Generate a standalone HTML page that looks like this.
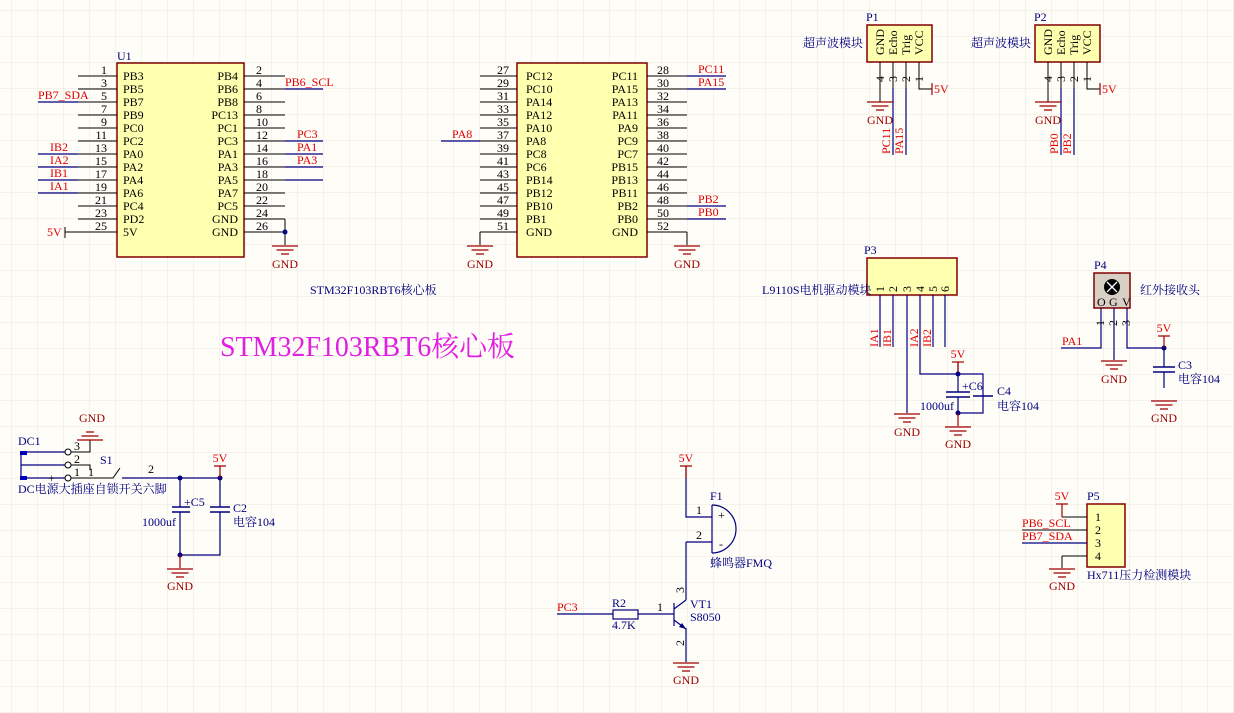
<!DOCTYPE html>
<html><head><meta charset="utf-8"><style>
html,body{margin:0;padding:0;background:#fffdf8;}
svg{display:block;}
text{font-family:"Liberation Serif","Noto Serif CJK SC","Noto Sans CJK SC",serif;font-size:12px;}
.k{fill:#000;} .n{fill:#000080;} .r{fill:#e00000;} .dr{fill:#a00000;}
.w{stroke:#000;stroke-width:1;fill:none;} .b{stroke:#000080;stroke-width:1.2;fill:none;} .p{stroke:#a00000;stroke-width:1.2;fill:none;}
.box{fill:#ffffb0;stroke:#800000;stroke-width:1.5;}
</style></head><body>
<svg width="1234" height="713" viewBox="0 0 1234 713" xmlns="http://www.w3.org/2000/svg">
<defs>
<pattern id="grid" x="11" y="10" width="26" height="26" patternUnits="userSpaceOnUse">
<path d="M0 0H26M0 0V26" stroke="#ebe6df" stroke-width="1" fill="none"/>
</pattern>
<g id="gnd"><path d="M-13 0H13M-8.5 4H8.5M-4 8H4" stroke="#a00000" stroke-width="1.2"/></g>
<g id="gndu"><path d="M-13 0H13M-8.5 -4H8.5M-4 -8H4" stroke="#a00000" stroke-width="1.2"/></g>
</defs>
<rect width="1234" height="713" fill="#fffdf8"/>
<rect width="1234" height="713" fill="url(#grid)"/>

<!-- U1 -->
<text x="117" y="60" class="n">U1</text>
<rect x="117" y="63" width="127" height="194" class="box"/>
<g class="w">
<path d="M78 76H117M78 89H117M78 102H117M78 115H117M78 128H117M78 141H117M78 154H117M78 167H117M78 180H117M78 193H117M78 206H117M78 219H117M65 232H117"/>
<path d="M244 76H285M244 89H285M244 102H285M244 115H285M244 128H285M244 141H285M244 154H285M244 167H285M244 180H285M244 193H285M244 206H285M244 219H285M244 232H285"/>
<path d="M285 219V245"/><path d="M65 227V238"/>
</g>
<use href="#gnd" x="285" y="246"/>
<circle cx="285" cy="232" r="2.5" fill="#000080"/>
<text x="285" y="268" class="dr" text-anchor="middle">GND</text>
<g class="b"><path d="M38 102H78M38 154H78M38 167H78M38 180H78M38 193H78M285 89H323M285 141H323M285 154H323M285 167H323M285 180H323"/></g>
<g class="k" text-anchor="end">
<text x="107" y="74">1</text><text x="107" y="87">3</text><text x="107" y="100">5</text><text x="107" y="113">7</text><text x="107" y="126">9</text><text x="107" y="139">11</text><text x="107" y="152">13</text><text x="107" y="165">15</text><text x="107" y="178">17</text><text x="107" y="191">19</text><text x="107" y="204">21</text><text x="107" y="217">23</text><text x="107" y="230">25</text>
<text x="238" y="80">PB4</text><text x="238" y="93">PB6</text><text x="238" y="106">PB8</text><text x="238" y="119">PC13</text><text x="238" y="132">PC1</text><text x="238" y="145">PC3</text><text x="238" y="158">PA1</text><text x="238" y="171">PA3</text><text x="238" y="184">PA5</text><text x="238" y="197">PA7</text><text x="238" y="210">PC5</text><text x="238" y="223">GND</text><text x="238" y="236">GND</text>
</g>
<g class="k">
<text x="123" y="80">PB3</text><text x="123" y="93">PB5</text><text x="123" y="106">PB7</text><text x="123" y="119">PB9</text><text x="123" y="132">PC0</text><text x="123" y="145">PC2</text><text x="123" y="158">PA0</text><text x="123" y="171">PA2</text><text x="123" y="184">PA4</text><text x="123" y="197">PA6</text><text x="123" y="210">PC4</text><text x="123" y="223">PD2</text><text x="123" y="236">5V</text>
<text x="256" y="74">2</text><text x="256" y="87">4</text><text x="256" y="100">6</text><text x="256" y="113">8</text><text x="256" y="126">10</text><text x="256" y="139">12</text><text x="256" y="152">14</text><text x="256" y="165">16</text><text x="256" y="178">18</text><text x="256" y="191">20</text><text x="256" y="204">22</text><text x="256" y="217">24</text><text x="256" y="230">26</text>
</g>
<g class="r">
<text x="38" y="99">PB7_SDA</text><text x="50" y="151">IB2</text><text x="50" y="164">IA2</text><text x="50" y="177">IB1</text><text x="50" y="190">IA1</text>
<text x="47" y="236">5V</text>
<text x="285" y="86">PB6_SCL</text><text x="297" y="138">PC3</text><text x="297" y="151">PA1</text><text x="297" y="164">PA3</text>
</g>

<!-- U2 -->
<rect x="517" y="63" width="130" height="194" class="box"/>
<g class="w">
<path d="M480 76H517M480 89H517M480 102H517M480 115H517M480 128H517M480 141H517M480 154H517M480 167H517M480 180H517M480 193H517M480 206H517M480 219H517M480 232H517"/>
<path d="M647 76H687M647 89H687M647 102H687M647 115H687M647 128H687M647 141H687M647 154H687M647 167H687M647 180H687M647 193H687M647 206H687M647 219H687M647 232H687"/>
<path d="M480 232V245M687 232V245"/>
</g>
<use href="#gnd" x="480" y="246"/><use href="#gnd" x="687" y="246"/>
<text x="480" y="268" class="dr" text-anchor="middle">GND</text>
<text x="687" y="268" class="dr" text-anchor="middle">GND</text>
<g class="b"><path d="M441 141H480M687 76H726M687 89H726M687 206H726M687 219H726"/></g>
<g class="k" text-anchor="end">
<text x="509" y="74">27</text><text x="509" y="87">29</text><text x="509" y="100">31</text><text x="509" y="113">33</text><text x="509" y="126">35</text><text x="509" y="139">37</text><text x="509" y="152">39</text><text x="509" y="165">41</text><text x="509" y="178">43</text><text x="509" y="191">45</text><text x="509" y="204">47</text><text x="509" y="217">49</text><text x="509" y="230">51</text>
<text x="638" y="80">PC11</text><text x="638" y="93">PA15</text><text x="638" y="106">PA13</text><text x="638" y="119">PA11</text><text x="638" y="132">PA9</text><text x="638" y="145">PC9</text><text x="638" y="158">PC7</text><text x="638" y="171">PB15</text><text x="638" y="184">PB13</text><text x="638" y="197">PB11</text><text x="638" y="210">PB2</text><text x="638" y="223">PB0</text><text x="638" y="236">GND</text>
</g>
<g class="k">
<text x="526" y="80">PC12</text><text x="526" y="93">PC10</text><text x="526" y="106">PA14</text><text x="526" y="119">PA12</text><text x="526" y="132">PA10</text><text x="526" y="145">PA8</text><text x="526" y="158">PC8</text><text x="526" y="171">PC6</text><text x="526" y="184">PB14</text><text x="526" y="197">PB12</text><text x="526" y="210">PB10</text><text x="526" y="223">PB1</text><text x="526" y="236">GND</text>
<text x="657" y="74">28</text><text x="657" y="87">30</text><text x="657" y="100">32</text><text x="657" y="113">34</text><text x="657" y="126">36</text><text x="657" y="139">38</text><text x="657" y="152">40</text><text x="657" y="165">42</text><text x="657" y="178">44</text><text x="657" y="191">46</text><text x="657" y="204">48</text><text x="657" y="217">50</text><text x="657" y="230">52</text>
</g>
<g class="r">
<text x="452" y="138">PA8</text><text x="698" y="73">PC11</text><text x="698" y="86">PA15</text><text x="698" y="203">PB2</text><text x="698" y="216">PB0</text>
</g>
<text x="310" y="294" class="n">STM32F103RBT6核心板</text>
<text x="220" y="356" fill="#e020e0" style="font-size:28px" textLength="295" lengthAdjust="spacingAndGlyphs">STM32F103RBT6核心板</text>

<!-- P1 / P2 -->
<g>
<text x="866" y="21" class="n">P1</text>
<rect x="867" y="25" width="65" height="37" class="box"/>
<g class="k" style="font-size:11px">
<text transform="translate(884,55) rotate(-90)">GND</text>
<text transform="translate(897,55) rotate(-90)">Echo</text>
<text transform="translate(910,55) rotate(-90)">Trig</text>
<text transform="translate(923,55) rotate(-90)">VCC</text>
<text transform="translate(884,82) rotate(-90)">4</text>
<text transform="translate(897,82) rotate(-90)">3</text>
<text transform="translate(910,82) rotate(-90)">2</text>
<text transform="translate(923,82) rotate(-90)">1</text>
</g>
<path d="M880 62V102M919 62V89H932M893 62V88M906 62V88" class="w"/>
<path d="M893 88V155M906 88V155" class="b"/>
<path d="M932 83V95" class="p"/>
<use href="#gnd" x="880" y="102"/>
<text x="880" y="124" class="dr" text-anchor="middle">GND</text>
<text x="934" y="93" class="r">5V</text>
<text transform="translate(890,154) rotate(-90)" class="r">PC11</text>
<text transform="translate(903,154) rotate(-90)" class="r">PA15</text>
<text x="803" y="47" class="n">超声波模块</text>
</g>
<g transform="translate(168,0)">
<text x="866" y="21" class="n">P2</text>
<rect x="867" y="25" width="65" height="37" class="box"/>
<g class="k" style="font-size:11px">
<text transform="translate(884,55) rotate(-90)">GND</text>
<text transform="translate(897,55) rotate(-90)">Echo</text>
<text transform="translate(910,55) rotate(-90)">Trig</text>
<text transform="translate(923,55) rotate(-90)">VCC</text>
<text transform="translate(884,82) rotate(-90)">4</text>
<text transform="translate(897,82) rotate(-90)">3</text>
<text transform="translate(910,82) rotate(-90)">2</text>
<text transform="translate(923,82) rotate(-90)">1</text>
</g>
<path d="M880 62V102M919 62V89H932M893 62V88M906 62V88" class="w"/>
<path d="M893 88V155M906 88V155" class="b"/>
<path d="M932 83V95" class="p"/>
<use href="#gnd" x="880" y="102"/>
<text x="880" y="124" class="dr" text-anchor="middle">GND</text>
<text x="934" y="93" class="r">5V</text>
<text transform="translate(890,154) rotate(-90)" class="r">PB0</text>
<text transform="translate(903,154) rotate(-90)" class="r">PB2</text>
<text x="803" y="47" class="n">超声波模块</text>
</g>

<!-- P3 -->
<text x="864" y="254" class="n">P3</text>
<rect x="867" y="258" width="90" height="37" class="box"/>
<g class="k" style="font-size:11px">
<text transform="translate(884,292) rotate(-90)">1</text><text transform="translate(897,292) rotate(-90)">2</text><text transform="translate(911,292) rotate(-90)">3</text><text transform="translate(924,292) rotate(-90)">4</text><text transform="translate(937,292) rotate(-90)">5</text><text transform="translate(949,292) rotate(-90)">6</text>
</g>
<text x="762" y="294" class="n">L9110S电机驱动模块</text>
<path d="M880 295V347M893 295V347M933 295V347M945 295V347M907 295V413M920 295V374H983V396" class="b"/>
<g class="r">
<text transform="translate(878,347) rotate(-90)">IA1</text><text transform="translate(891,347) rotate(-90)">IB1</text><text transform="translate(918,347) rotate(-90)">IA2</text><text transform="translate(931,347) rotate(-90)">IB2</text>
</g>
<use href="#gnd" x="907" y="414"/>
<text x="907" y="436" class="dr" text-anchor="middle">GND</text>
<path d="M958 362V392M958 397V413H983V396" class="b"/>
<path d="M958 362V374" class="p"/><path d="M952 362H964" class="p"/>
<text x="958" y="358" class="r" text-anchor="middle">5V</text>
<path d="M946 392H970M946 397H970M973 396H993" stroke="#000080" stroke-width="1.5"/>
<circle cx="958" cy="374" r="2.5" fill="#000080"/><circle cx="958" cy="413" r="2.5" fill="#000080"/>
<path d="M958 413V426" class="p"/>
<use href="#gnd" x="958" y="427"/>
<text x="958" y="448" class="dr" text-anchor="middle">GND</text>
<text x="962" y="390" class="n">+C6</text>
<text x="920" y="410" class="n">1000uf</text>
<text x="997" y="395" class="n">C4</text>
<text x="997" y="410" class="n">电容104</text>

<!-- P4 -->
<text x="1094" y="269" class="n">P4</text>
<rect x="1094" y="273" width="36" height="35" fill="#d8d0c4" stroke="#800000" stroke-width="1.5"/>
<circle cx="1112" cy="287" r="8" fill="#000"/>
<path d="M1107 282L1117 292M1117 282L1107 292" stroke="#fff" stroke-width="1.3"/>
<g class="k" style="font-size:10px"><text x="1097" y="306">O</text><text x="1109" y="306">G</text><text x="1122" y="306">V</text></g>
<path d="M1101 308V348H1061M1114 308V360M1127 308V348H1164V367M1164 372V388" class="b"/>
<path d="M1153 367H1175M1153 372H1175" stroke="#000080" stroke-width="1.5"/>
<circle cx="1164" cy="348" r="2.5" fill="#000080"/>
<path d="M1164 336V348M1158 336H1170" class="p"/>
<text x="1164" y="332" class="r" text-anchor="middle">5V</text>
<use href="#gnd" x="1114" y="361"/><use href="#gnd" x="1164" y="401"/>
<text x="1114" y="383" class="dr" text-anchor="middle">GND</text>
<text x="1164" y="422" class="dr" text-anchor="middle">GND</text>
<text x="1062" y="345" class="r">PA1</text>
<text x="1178" y="369" class="n">C3</text><text x="1178" y="383" class="n">电容104</text>
<text x="1140" y="294" class="n">红外接收头</text>
<g class="k" style="font-size:11px"><text transform="translate(1104,326) rotate(-90)">1</text><text transform="translate(1117,326) rotate(-90)">2</text><text transform="translate(1130,326) rotate(-90)">3</text></g>

<!-- P5 -->
<text x="1087" y="500" class="n">P5</text>
<rect x="1087" y="504" width="38" height="63" class="box"/>
<g class="k"><text x="1095" y="521">1</text><text x="1095" y="534">2</text><text x="1095" y="547">3</text><text x="1095" y="560">4</text></g>
<path d="M1062 517H1087M1022 530H1087M1062 556H1087M1062 556V568" class="w"/>
<path d="M1022 543H1087" class="b"/>
<path d="M1062 504V517M1056 504H1068" class="p"/>
<text x="1062" y="500" class="r" text-anchor="middle">5V</text>
<text x="1022" y="527" class="r">PB6_SCL</text><text x="1022" y="540" class="r">PB7_SDA</text>
<use href="#gnd" x="1062" y="569"/>
<text x="1062" y="590" class="dr" text-anchor="middle">GND</text>
<text x="1087" y="579" class="n">Hx711压力检测模块</text>

<!-- Power -->
<text x="18" y="445" class="n">DC1</text>
<rect x="20" y="451" width="7" height="4" fill="#0000c0"/><rect x="20" y="476" width="7" height="4" fill="#0000c0"/>
<path d="M21 453V478M27 452H65M21 465H65M27 478H65" class="b"/>
<circle cx="68" cy="452" r="3" fill="#fff" stroke="#000" /><circle cx="68" cy="465" r="3" fill="#fff" stroke="#000"/><circle cx="68" cy="478" r="3" fill="#fff" stroke="#000"/>
<path d="M71 452H90V440M71 465H90V470M71 478H113L120 468M122 478H180" class="w"/>
<path d="M122 478H220" class="b"/>
<use href="#gndu" x="90" y="440"/>
<text x="92" y="422" class="dr" text-anchor="middle">GND</text>
<g class="k"><text x="74" y="450">3</text><text x="74" y="463">2</text><text x="74" y="476">1</text><text x="88" y="476">1</text><text x="148" y="473">2</text><text x="48" y="482">+</text></g>
<text x="100" y="464" class="n">S1</text>
<text x="18" y="493" class="n">DC电源大插座自锁开关六脚</text>
<path d="M180 478V507M180 512V555H220V512M220 478V507" class="b"/>
<path d="M172 507H190M172 512H190M210 507H230M210 512H230" stroke="#000080" stroke-width="1.5"/>
<circle cx="180" cy="478" r="2.5" fill="#000080"/><circle cx="220" cy="478" r="2.5" fill="#000080"/><circle cx="180" cy="555" r="2.5" fill="#000080"/>
<path d="M220 466V478M214 466H226M180 555V568" class="p"/>
<text x="220" y="462" class="r" text-anchor="middle">5V</text>
<use href="#gnd" x="180" y="569"/>
<text x="180" y="590" class="dr" text-anchor="middle">GND</text>
<text x="184" y="506" class="n">+C5</text><text x="142" y="526" class="n">1000uf</text>
<text x="233" y="512" class="n">C2</text><text x="233" y="526" class="n">电容104</text>

<!-- Buzzer -->
<path d="M686 466V517H712M686 542H712M686 542V600M686 628V662" class="b"/>
<path d="M686 466V478M680 466H692" class="p"/>
<text x="686" y="462" class="r" text-anchor="middle">5V</text>
<path d="M712 505V553M712 505A24 24 0 0 1 712 553" stroke="#000080" stroke-width="1.2" fill="none"/>
<g class="k"><text x="696" y="514">1</text><text x="696" y="539">2</text><text x="718" y="519">+</text><text x="719" y="548">-</text><text x="657" y="611">1</text></g>
<text x="710" y="500" class="n">F1</text>
<text x="710" y="567" class="n">蜂鸣器FMQ</text>
<g class="k"><text transform="translate(684,593) rotate(-90)">3</text><text transform="translate(684,646) rotate(-90)">2</text></g>
<path d="M674 603V626M674 609L686 600M674 620L686 629M650 614H674M638 614H650M557 614H613" class="b"/>
<path d="M686 629L679 627L682 623Z" fill="#000080"/>
<rect x="613" y="610" width="25" height="9" fill="none" stroke="#000080" stroke-width="1.2"/>
<use href="#gnd" x="686" y="663"/>
<text x="686" y="684" class="dr" text-anchor="middle">GND</text>
<text x="557" y="611" class="r">PC3</text>
<text x="612" y="607" class="n">R2</text><text x="612" y="629" class="n">4.7K</text>
<text x="690" y="608" class="n">VT1</text><text x="690" y="621" class="n">S8050</text>
</svg>
</body></html>
